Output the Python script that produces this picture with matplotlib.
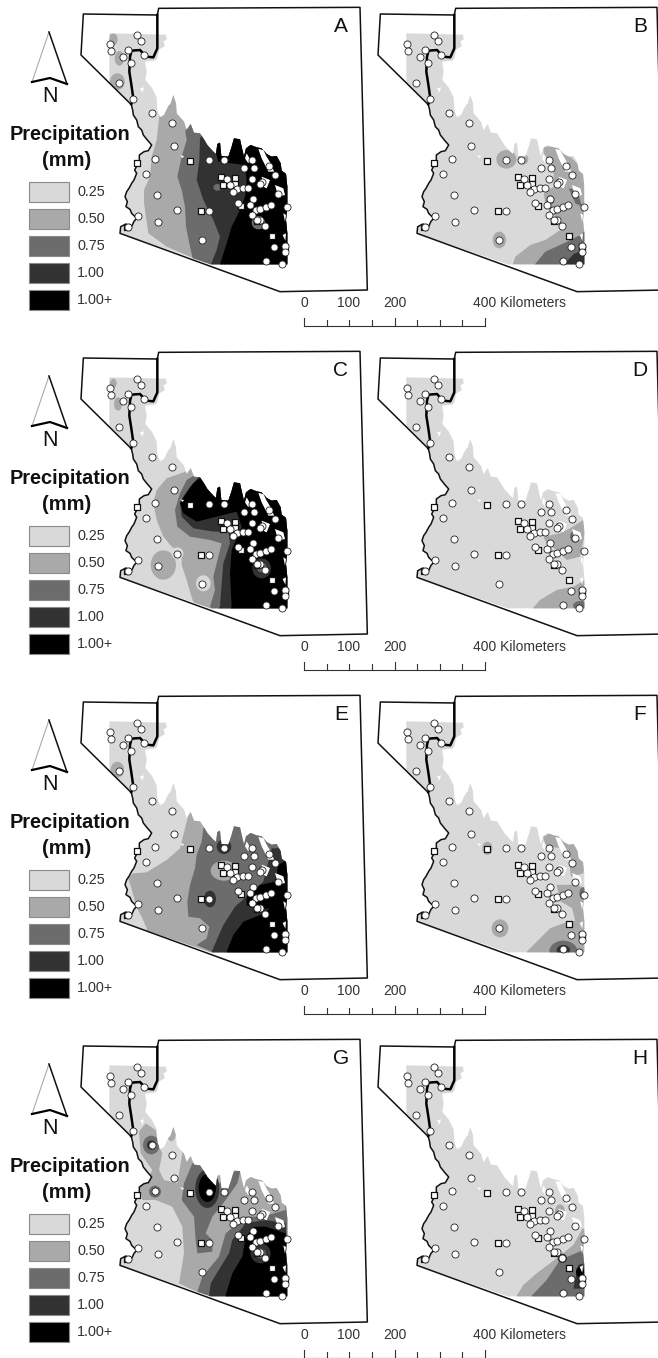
import matplotlib
matplotlib.use("Agg")
import matplotlib.pyplot as plt
from matplotlib.patches import Polygon, Ellipse

plt.rcParams["font.family"] = ["Liberation Sans", "DejaVu Sans"]

# ------------------------------------------
# 1. MAP DATA (map units, 3 units = 1 pixel)
# ------------------------------------------
levels = ["0.25", "0.50", "0.75", "1.00", "1.00+"]
level_colors = {"0.25": "#d9d9d9", "0.50": "#a9a9a9", "0.75": "#6c6c6c",
                "1.00": "#323232", "1.00+": "#000000"}

west_border = [(360, 700), (362, 680), (378, 672), (392, 686), (402, 664), (415, 650), (405, 650),
               (395, 640), (390, 628), (378, 620), (382, 605), (375, 590), (380, 575), (387, 565),
               (395, 550), (402, 540), (410, 520), (404, 510), (412, 495), (418, 485), (418, 465),
               (432, 455), (445, 452), (455, 435), (442, 420), (430, 405), (425, 390), (415, 380),
               (410, 360), (400, 345), (398, 330), (394, 315)]
state_outline = [(392, 312), (243, 165), (250, 42), (472, 45), (476, 25), (1080, 22), (1102, 870),
                 (840, 875)] + west_border
river = [(394, 312), (400, 296), (395, 260), (388, 215), (390, 170), (395, 152), (420, 150),
         (438, 170), (460, 172), (472, 145), (472, 45)]

study_area = [(328, 100), (498, 104), (500, 118), (490, 125), (495, 138), (478, 148), (472, 175),
              (465, 182), (435, 185), (440, 215), (436, 240), (455, 262), (470, 292), (472, 330),
              (480, 352), (492, 345), (505, 318), (512, 310), (520, 285), (528, 310), (530, 340),
              (552, 365), (560, 390), (572, 372), (582, 398), (600, 400), (612, 418), (622, 435),
              (640, 455), (648, 462), (652, 432), (660, 428), (664, 468), (685, 470), (695, 440),
              (702, 415), (720, 418), (726, 445), (732, 470), (738, 445), (752, 435), (770, 442),
              (785, 445), (800, 462), (815, 470), (830, 468), (842, 490), (845, 512), (858, 522),
              (862, 560), (862, 620), (858, 660), (862, 700), (862, 793), (632, 793)] + west_border + [(328, 248)]

holes = [[(775, 447), (790, 450), (800, 470), (815, 495), (822, 515), (805, 515), (795, 495), (785, 475)],
         [(825, 555), (850, 565), (855, 585), (835, 590)],
         [(785, 530), (810, 540), (800, 565), (790, 560)],
         [(740, 460), (750, 478), (745, 490), (735, 475)],
         [(540, 466), (552, 468), (548, 474)],
         [(420, 265), (432, 262), (428, 278)],
         [(850, 640), (858, 645), (855, 665)],
         [(848, 705), (858, 700), (856, 722)]]

stations = [(410, 105), (422, 122), (330, 132), (334, 153), (384, 149), (368, 170), (432, 165),
            (392, 188), (357, 248), (400, 296), (455, 339), (515, 369), (521, 438), (465, 478),
            (438, 522), (470, 584), (530, 630), (473, 667), (414, 649), (385, 680), (607, 720),
            (626, 633), (626, 480), (672, 480), (732, 503), (755, 480), (763, 505), (806, 498),
            (825, 525), (755, 537), (785, 545), (680, 537), (690, 555), (710, 568), (728, 563),
            (743, 563), (698, 577), (780, 552), (833, 582), (715, 608), (760, 598), (750, 614),
            (768, 630), (780, 628), (798, 622), (812, 614), (860, 620), (755, 645), (780, 660),
            (795, 678), (822, 740), (855, 738), (855, 755), (798, 782), (847, 792), (772, 660)]
gauges = [(570, 482), (603, 634), (662, 532), (704, 533), (670, 555), (706, 552), (722, 617),
          (817, 707), (772, 662), (382, 682), (855, 742), (412, 490)]

# each entry: level, polygon points or (centre x, centre y, radius x, radius y)
nw_a = [("0.50", (340, 118, 13, 18)), ("0.50", (358, 175, 14, 22)), ("0.50", (352, 245, 22, 25))]

panel_a = [("0.50", [(478, 345), (470, 420), (455, 470), (450, 530), (432, 570), (432, 610), (445, 700),
                     (500, 740), (575, 772), (590, 800), (900, 800), (900, 250), (505, 250)]),
           ("0.75", [(556, 395), (560, 420), (545, 470), (532, 530), (545, 570), (555, 620), (558, 680),
                     (570, 740), (578, 775), (590, 800), (900, 800), (900, 300), (580, 300)]),
           ("1.00", [(600, 415), (598, 480), (590, 540), (610, 600), (640, 660), (660, 710), (650, 750),
                     (630, 800), (900, 800), (900, 400), (610, 400)]),
           ("1.00+", [(640, 430), (655, 485), (735, 495), (740, 545), (735, 590), (715, 640), (695, 680),
                      (680, 730), (658, 800), (900, 800), (900, 400), (640, 400)]),
           ("0.75", (775, 668, 20, 20)), ("0.75", (652, 562, 12, 10))] + nw_a

panel_b = [("0.50", (628, 478, 30, 28)), ("0.50", (678, 478, 16, 16)), ("0.50", (607, 720, 20, 25)),
           ("0.50", [(740, 440), (790, 440), (860, 510), (865, 700), (862, 800), (645, 800), (655, 770),
                     (700, 735), (745, 720), (790, 690), (770, 640), (745, 610), (740, 580), (770, 560),
                     (770, 500), (740, 470)]),
           ("0.75", [(815, 565), (840, 570), (855, 620), (835, 610)]),
           ("0.75", [(870, 688), (870, 800), (708, 800), (745, 755), (800, 730), (850, 705)]),
           ("0.75", (760, 600, 12, 14)),
           ("1.00", [(870, 745), (870, 800), (795, 800), (830, 762)])]

panel_c = [("0.50", [(570, 378), (500, 403), (470, 438), (460, 478), (470, 528), (490, 578), (515, 608),
                     (545, 628), (545, 663), (560, 708), (575, 760), (590, 800), (900, 800), (900, 300),
                     (570, 300)]),
           ("0.50", (490, 663, 38, 44)), ("0.25", (610, 718, 22, 24)), ("0.25", (532, 628, 18, 18)),
           ("0.75", [(600, 383), (560, 408), (540, 448), (525, 498), (532, 548), (570, 578), (630, 588),
                     (665, 598), (650, 658), (640, 698), (645, 738), (630, 788), (640, 800), (900, 800),
                     (900, 300), (620, 300)]),
           ("1.00", [(610, 383), (570, 428), (540, 473), (545, 518), (580, 553), (640, 563), (685, 563),
                     (690, 598), (670, 658), (665, 718), (660, 788), (650, 800), (900, 800), (900, 300)]),
           ("1.00+", [(605, 398), (580, 418), (555, 453), (540, 478), (550, 508), (590, 533), (650, 518),
                      (710, 503), (725, 548), (695, 618), (690, 688), (695, 788), (690, 800), (900, 800),
                      (900, 350), (620, 350)]),
           ("1.00", (785, 673, 28, 30)), ("0.75", (785, 670, 14, 15)),
           ("0.50", (354, 180, 12, 20)), ("0.50", (340, 118, 10, 14))]

panel_d = [("0.50", [(739, 578), (789, 568), (819, 553), (859, 528), (864, 568), (849, 638), (809, 648),
                     (779, 618), (749, 598)]),
           ("0.75", (834, 578, 15, 18)),
           ("0.50", [(709, 791), (729, 768), (779, 738), (829, 728), (864, 708), (869, 800), (709, 800)]),
           ("0.75", (850, 785, 22, 14))]

panel_e = [("0.50", [(570, 361), (555, 421), (540, 481), (500, 516), (440, 553), (400, 556), (385, 571),
                     (400, 621), (408, 656), (425, 686), (440, 721), (440, 800), (900, 800), (900, 300),
                     (600, 300)]),
           ("0.75", [(610, 421), (605, 461), (590, 501), (585, 541), (570, 591), (562, 641), (565, 686),
                     (600, 691), (628, 716), (620, 751), (590, 771), (635, 791), (640, 800), (900, 800),
                     (900, 380), (640, 380)]),
           ("0.50", (672, 548, 40, 30)),
           ("1.00", (672, 476, 22, 22)), ("1.00", (630, 633, 18, 25)),
           ("1.00", [(815, 481), (800, 541), (790, 581), (745, 621), (705, 656), (670, 711), (635, 791),
                     (640, 800), (900, 800), (900, 480)]),
           ("1.00+", [(860, 516), (835, 531), (825, 581), (780, 591), (740, 621), (740, 651), (770, 666),
                      (810, 661), (780, 681), (730, 701), (700, 741), (680, 791), (680, 800), (900, 800),
                      (900, 516)]),
           ("0.50", (352, 245, 20, 24))]

panel_f = [("0.50", (571, 481, 15, 20)), ("0.50", (609, 721, 25, 27)),
           ("0.50", [(739, 446), (769, 431), (799, 451), (839, 471), (864, 521), (859, 556), (822, 566),
                     (815, 510), (790, 480), (745, 475)]),
           ("0.50", [(779, 591), (830, 590), (869, 600), (869, 690), (835, 700), (825, 660), (790, 640)]),
           ("0.75", (859, 616, 12, 18)),
           ("0.50", [(689, 791), (719, 761), (759, 721), (799, 706), (864, 691), (869, 800), (689, 800)]),
           ("0.75", (799, 790, 42, 32)), ("1.00", (799, 787, 20, 16))]

panel_g = [("0.50", [(417, 299), (437, 274), (467, 294), (477, 344), (487, 364), (477, 414), (492, 444),
                     (532, 454), (547, 364), (542, 324), (577, 364), (617, 394), (897, 364), (897, 814),
                     (617, 794), (537, 754), (552, 664), (547, 584), (517, 524), (467, 504), (427, 504),
                     (417, 454), (447, 434), (457, 414), (422, 364)]),
           ("0.50", (514, 300, 14, 28)),
           ("0.75", (454, 339, 25, 28)), ("1.00", (454, 339, 13, 14)),
           ("0.75", (465, 479, 18, 18)),
           ("0.75", [(607, 379), (577, 394), (552, 454), (545, 504), (582, 554), (587, 624), (592, 664),
                     (637, 659), (637, 624), (617, 604), (637, 554), (677, 504), (712, 454), (722, 414),
                     (702, 419), (687, 444), (657, 454), (637, 404)]),
           ("0.75", [(587, 794), (607, 734), (657, 674), (677, 604), (737, 554), (787, 554), (857, 534),
                     (852, 464), (827, 454), (897, 454), (897, 814)]),
           ("1.00", (622, 470, 36, 58)), ("1.00+", (622, 468, 26, 42)),
           ("1.00", [(627, 794), (632, 754), (687, 664), (697, 624), (737, 574), (797, 564), (857, 574),
                     (867, 794)]),
           ("1.00+", [(677, 789), (697, 724), (727, 674), (737, 614), (762, 584), (797, 584), (857, 604),
                      (862, 800), (677, 800)]),
           ("1.00", (782, 664, 30, 30)), ("0.75", (782, 664, 15, 15))]

panel_h = [("0.50", [(659, 791), (679, 759), (719, 724), (779, 679), (829, 639), (857, 589), (869, 594),
                     (869, 800), (659, 800)]),
           ("0.75", [(704, 791), (749, 744), (789, 684), (859, 654), (869, 650), (869, 800), (704, 800)]),
           ("1.00", (796, 679, 14, 14)),
           ("1.00", [(844, 699), (859, 694), (869, 770), (829, 770)]),
           ("1.00+", (849, 720, 12, 16)),
           ("0.50", (789, 539, 15, 22)), ("0.50", (857, 616, 10, 15))]

panels = {"A": panel_a, "B": panel_b, "C": panel_c, "D": panel_d,
          "E": panel_e, "F": panel_f, "G": panel_g, "H": panel_h}

scale_km = [0, 50, 100, 150, 200, 250, 300, 350, 400]

# ------------------------------------------
# 2. PAGE LAYOUT
# ------------------------------------------
col_dx = 297
row_dy = 344

fig = plt.figure(figsize=(6.58, 13.58), dpi=100)
ax = fig.add_axes([0, 0, 1, 1])
ax.set_xlim(0, 658)
ax.set_ylim(1358, 0)
ax.axis("off")


def to_page(points, dx, dy):
    return [(x / 3 + dx, y / 3 + dy) for x, y in points]


def draw_map(name, items, dx, dy):
    area = Polygon(to_page(study_area, dx, dy), closed=True, facecolor=level_colors["0.25"],
                   edgecolor="none", zorder=1)
    ax.add_patch(area)
    for level, shape in items:
        if len(shape) == 4 and not isinstance(shape[0], tuple):
            cx, cy, rx, ry = shape
            patch = Ellipse((cx / 3 + dx, cy / 3 + dy), 2 * rx / 3, 2 * ry / 3,
                            facecolor=level_colors[level], edgecolor="none", zorder=2)
        else:
            patch = Polygon(to_page(shape, dx, dy), closed=True, facecolor=level_colors[level],
                            edgecolor="none", zorder=2)
        ax.add_patch(patch)
        patch.set_clip_path(area)
    for hole in holes:
        ax.add_patch(Polygon(to_page(hole, dx, dy), closed=True, facecolor="white",
                             edgecolor="none", zorder=3))

    line = to_page(state_outline, dx, dy)
    ax.plot([p[0] for p in line], [p[1] for p in line], color="#111111", lw=1.1, zorder=4)
    line = to_page(river, dx, dy)
    ax.plot([p[0] for p in line], [p[1] for p in line], color="black", lw=1.8, zorder=4)

    pts = to_page(gauges, dx, dy)
    ax.scatter([p[0] for p in pts], [p[1] for p in pts], marker="s", s=18, facecolor="white",
               edgecolor="#111111", linewidth=0.9, zorder=5)
    pts = to_page(stations, dx, dy)
    ax.scatter([p[0] for p in pts], [p[1] for p in pts], marker="o", s=26, facecolor="white",
               edgecolor="#222222", linewidth=0.6, zorder=6)

    ax.text(dx + (341 if dx == 0 else 343), dy + 27, name, fontsize=15, ha="center", va="center",
            color="#111111", zorder=7)


def draw_legend(dy):
    # north arrow
    apex, left, notch, right = (49, 32), (32, 82), (50, 78), (67, 84)
    ax.plot([left[0], apex[0]], [left[1] + dy, apex[1] + dy], color="#aaaaaa", lw=0.8)
    ax.plot([apex[0], right[0]], [apex[1] + dy, right[1] + dy], color="#111111", lw=1.1)
    ax.plot([left[0], notch[0], right[0]], [left[1] + dy, notch[1] + dy, right[1] + dy],
            color="black", lw=1.6)
    ax.text(50, 97 + dy, "N", fontsize=15.5, ha="center", va="center", color="#111111")

    ax.text(70, 135 + dy, "Precipitation", fontsize=14.4, fontweight="bold", ha="center",
            va="center", color="#111111")
    ax.text(67, 160 + dy, "(mm)", fontsize=14.4, fontweight="bold", ha="center", va="center",
            color="#111111")

    for i, level in enumerate(levels):
        top = 182 + i * 27.1 + dy
        ax.add_patch(plt.Rectangle((29, top), 40, 20, facecolor=level_colors[level],
                                   edgecolor="#8a8a8a", linewidth=0.8))
        ax.text(77, top + 10, level, fontsize=10.4, ha="left", va="center", color="#333333")


def draw_scale(dy):
    base = 326 + dy
    km_to_x = lambda km: 304 + km * (485 - 304) / 400
    ax.plot([km_to_x(0), km_to_x(400)], [base, base], color="#333333", lw=0.8)
    for km in scale_km:
        tall = km in (0, 200, 400)
        ax.plot([km_to_x(km)] * 2, [base, base - (8 if tall else 6)], color="#333333", lw=0.8)
    ax.text(km_to_x(0), 303 + dy, "0", fontsize=10, ha="center", va="center", color="#333333")
    ax.text(km_to_x(100) - 1, 303 + dy, "100", fontsize=10, ha="center", va="center", color="#333333")
    ax.text(km_to_x(200), 303 + dy, "200", fontsize=10, ha="center", va="center", color="#333333")
    ax.text(473, 303 + dy, "400 Kilometers", fontsize=10, ha="left", va="center", color="#333333")


# ------------------------------------------
# 3. DRAW ALL PANELS
# ------------------------------------------
for row, (left_name, right_name) in enumerate([("A", "B"), ("C", "D"), ("E", "F"), ("G", "H")]):
    dy = row * row_dy
    draw_map(left_name, panels[left_name], 0, dy)
    draw_map(right_name, panels[right_name], col_dx, dy)
    draw_legend(dy)
    draw_scale(dy)

fig.savefig("out.png", dpi=100)
